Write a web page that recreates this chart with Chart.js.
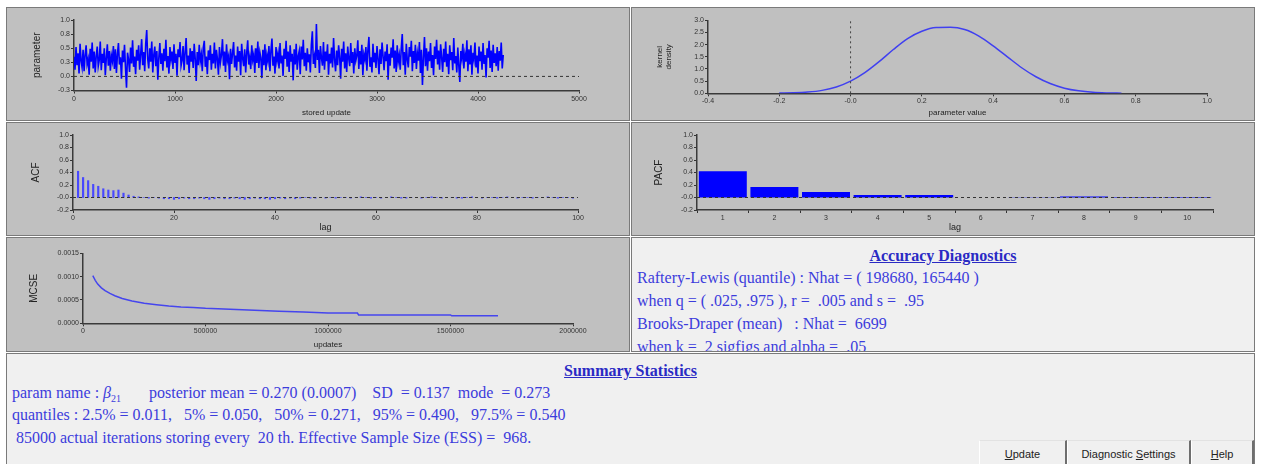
<!DOCTYPE html>
<html><head><meta charset="utf-8">
<script src="https://cdn.jsdelivr.net/npm/chart.js@4/dist/chart.umd.min.js"></script>
<style>
html,body{margin:0;padding:0;background:#fff;width:1262px;height:464px;overflow:hidden;font-family:'Liberation Serif',serif;}
.panel{position:absolute;box-sizing:border-box;border:1px solid #7a7a7a;background:#c0c0c0;overflow:hidden;}
.panel canvas{position:absolute;left:-1px;top:-1px;}
.txt{background:#f0f0f0;color:#3c3cdc;font-size:16px;}
.line{position:absolute;white-space:pre;line-height:20px;}
.head{font-weight:bold;text-decoration:underline;color:#2a2ac4;}
.btn{position:absolute;box-sizing:border-box;top:440px;height:30px;background:#f0f0f0;border-left:1px solid #ffffff;border-right:2px solid #6e6e6e;border-top:1px solid #e2e2e2;font:11px 'Liberation Sans',sans-serif;color:#222;text-align:center;line-height:26px;}
</style></head>
<body>
<div class="panel" style="left:6px;top:7px;width:624px;height:114px;"><canvas id="c1" width="624" height="114"></canvas></div>
<div class="panel" style="left:631px;top:7px;width:624px;height:114px;"><canvas id="c2" width="624" height="114"></canvas></div>
<div class="panel" style="left:6px;top:122px;width:624px;height:114px;"><canvas id="c3" width="624" height="114"></canvas></div>
<div class="panel" style="left:631px;top:122px;width:624px;height:114px;"><canvas id="c4" width="624" height="114"></canvas></div>
<div class="panel" style="left:6px;top:237px;width:624px;height:115px;"><canvas id="c5" width="624" height="115"></canvas></div>
<div class="panel txt" style="left:631px;top:237px;width:624px;height:115px;">
  <div class="line head" style="left:0;width:622px;text-align:center;top:8px">Accuracy Diagnostics</div>
  <div class="line" style="left:5px;top:30px">Raftery-Lewis (quantile) : Nhat = ( 198680, 165440 )</div>
  <div class="line" style="left:5px;top:53px">when q = ( .025, .975 ), r =  .005 and s =  .95</div>
  <div class="line" style="left:5px;top:76px">Brooks-Draper (mean)   : Nhat =  6699</div>
  <div class="line" style="left:5px;top:99px">when k =  2 sigfigs and alpha =  .05</div>
</div>
<div class="panel txt" style="left:6px;top:353px;width:1249px;height:115px;">
  <div class="line head" style="left:0;width:1247px;text-align:center;top:7px">Summary Statistics</div>
  <div class="line" style="left:5px;top:29px">param name : <i>β</i><sub style="font-size:10px">21</sub>       posterior mean = 0.270 (0.0007)    SD  = 0.137  mode  = 0.273</div>
  <div class="line" style="left:5px;top:51px">quantiles : 2.5% = 0.011,   5% = 0.050,   50% = 0.271,   95% = 0.490,   97.5% = 0.540</div>
  <div class="line" style="left:5px;top:74px"> 85000 actual iterations storing every  20 th. Effective Sample Size (ESS) =  968.</div>
</div>
<div class="btn" style="left:979px;width:88px;"><u>U</u>pdate</div>
<div class="btn" style="left:1067px;width:124px;">Diagnostic <u>S</u>ettings</div>
<div class="btn" style="left:1191px;width:63px;"><u>H</u>elp</div>

<script>
// ---------------- DATA ----------------
// trace: parameter value, one sample shown every 10 stored updates (0..4250)
const traceEvery = 10;
const traceValues = [
0.35,0.12,0.52,0.20,0.41,0.05,0.58,0.28,0.16,0.47,0.09,0.38,0.55,0.22,0.31,0.03,0.49,0.26,0.60,0.14,
0.44,0.07,0.36,0.53,0.18,0.29,0.62,0.11,0.40,0.24,0.50,0.02,0.33,0.57,0.19,0.45,0.10,0.37,0.27,0.54,
0.13,0.48,0.06,0.39,0.59,0.21,0.34,-0.04,0.46,0.25,0.56,0.15,-0.20,0.42,0.30,0.08,0.51,0.23,0.64,0.17,
0.35,0.04,0.47,0.28,0.55,0.12,0.39,0.66,0.20,0.43,0.09,0.58,0.82,0.31,0.14,0.50,0.26,0.62,0.07,0.38,
0.53,0.18,0.45,-0.06,0.33,0.59,0.22,0.41,0.10,0.49,0.27,0.65,0.16,0.36,0.05,0.52,0.30,0.44,0.13,0.57,
0.24,0.40,0.01,0.48,0.34,0.61,0.19,0.29,0.54,0.11,0.42,0.68,0.21,0.37,0.06,0.50,0.26,0.45,0.15,0.58,
0.32,-0.08,0.43,0.20,0.56,0.27,0.39,0.09,0.51,0.63,0.17,0.35,0.04,0.46,0.29,0.55,0.12,0.40,0.23,0.60,
0.14,0.47,0.31,0.03,0.52,0.25,0.38,0.66,0.19,0.44,0.08,0.57,0.28,0.36,-0.05,0.49,0.22,0.41,0.61,0.16,
0.37,0.10,0.53,0.26,0.45,0.02,0.58,0.32,0.18,0.48,0.07,0.42,0.64,0.21,0.34,0.13,0.55,0.29,0.39,0.06,
0.50,0.24,0.62,0.15,0.43,0.33,-0.03,0.47,0.20,0.57,0.11,0.38,0.27,0.54,0.09,0.46,0.67,0.19,0.35,0.05,
0.52,0.28,0.41,0.14,0.59,0.23,0.37,0.01,0.49,0.31,0.63,0.17,0.44,0.08,0.55,0.26,0.40,-0.07,0.48,0.21,
0.58,0.12,0.36,0.45,0.04,0.53,0.30,0.65,0.18,0.42,0.10,0.50,0.25,0.39,0.07,0.56,0.80,0.22,0.35,0.15,
0.93,0.29,0.47,0.06,0.54,0.33,0.19,0.61,0.12,0.44,0.27,0.57,0.03,0.40,0.23,0.51,0.16,0.68,0.30,0.09,
0.46,0.20,0.55,0.35,-0.04,0.49,0.26,0.62,0.14,0.41,0.08,0.53,0.32,0.18,0.59,0.24,0.43,0.05,0.50,0.28,
0.37,0.64,0.13,0.45,0.21,0.56,0.02,0.39,0.30,0.52,0.10,0.47,0.70,0.17,0.34,0.07,0.58,0.25,0.42,0.15,
0.54,0.31,0.04,0.48,0.22,0.60,0.36,0.11,0.44,0.27,0.57,-0.06,0.40,0.19,0.51,0.33,0.66,0.14,0.46,0.08,
0.55,0.26,0.38,0.12,0.49,0.75,0.20,0.43,0.03,0.58,0.30,0.16,0.52,0.35,0.63,0.09,0.45,0.24,0.56,0.13,
0.41,0.28,0.61,0.06,0.47,-0.15,0.33,0.70,0.18,0.50,0.10,0.44,0.27,0.59,0.15,0.38,0.02,0.53,0.31,0.65,
0.21,0.46,0.12,0.57,0.34,0.08,0.49,0.25,0.62,0.17,0.40,0.04,0.55,0.29,0.43,0.11,0.68,0.23,0.36,0.07,
0.51,0.19,-0.10,0.45,0.32,0.58,0.14,0.39,0.26,0.64,0.09,0.48,0.21,0.55,0.03,0.42,0.30,0.60,0.16,0.37,
0.05,0.53,0.27,0.44,0.12,0.59,0.22,0.38,-0.02,0.50,0.33,0.63,0.15,0.46,0.08,0.56,0.24,0.41,0.18,0.52,
0.10,0.45,0.28,0.60,0.14,0.38
];
const traceXTicks = [0, 5000, 1000];      // min, max, step (stored update)
const traceYTicks = [-0.25, 1.0, 0.25];   // min, max, step (parameter)

// kernel density
const kernelX = [-0.20,-0.16,-0.12,-0.08,-0.04,0.00,0.04,0.08,0.12,0.16,0.20,0.24,0.28,0.32,0.36,0.40,0.44,0.48,0.52,0.56,0.60,0.64,0.68,0.72,0.76];
const kernelY = [0.01,0.02,0.05,0.12,0.26,0.50,0.85,1.30,1.80,2.25,2.55,2.70,2.71,2.62,2.35,1.95,1.50,1.05,0.68,0.40,0.21,0.10,0.04,0.015,0.005];
const kernelXTicks = [-0.4, 1.0, 0.2];
const kernelYTicks = [0, 3.0, 0.5];

// ACF, lags 1..100
const acfValues = [
0.42,0.32,0.27,0.21,0.18,0.14,0.12,0.11,0.12,0.07,
0.04,0.02,0.01,0.00,-0.01,0.00,-0.01,-0.02,-0.02,-0.03,
-0.02,-0.01,-0.02,-0.02,-0.01,-0.02,-0.03,-0.02,-0.01,-0.02,
-0.02,-0.01,-0.02,-0.03,-0.02,-0.01,-0.02,-0.02,-0.03,-0.02,
-0.01,-0.02,-0.01,-0.02,-0.01,0.00,-0.01,-0.01,0.00,-0.01,
0.00,-0.01,0.00,0.00,-0.01,0.00,0.01,0.00,-0.01,0.00,
-0.01,0.00,0.01,0.00,-0.01,-0.01,0.00,0.00,-0.01,0.00,
0.01,0.00,-0.01,0.00,0.00,-0.01,-0.01,0.00,0.01,0.00,
-0.01,0.00,0.00,-0.01,0.00,0.01,0.00,-0.01,0.00,0.00,
-0.01,0.00,0.00,0.01,0.00,-0.01,0.00,0.00,-0.01,0.00
];
const acfXTicks = [0, 100, 20];
const corrYTicks = [-0.2, 1.0, 0.2];

// PACF, lags 1..10
const pacfLags = ['1','2','3','4','5','6','7','8','9','10'];
const pacfValues = [0.42,0.17,0.09,0.04,0.04,0.00,-0.003,0.016,0.007,0.007];

// MCSE vs updates
const mcseUpdates = [40000,50000,60000,75000,90000,110000,130000,160000,200000,250000,300000,350000,400000,450000,500000,600000,700000,800000,900000,1000000,1120000,1125000,1300000,1500000,1505000,1694000];
const mcseValues  = [0.00102,0.00092,0.00084,0.00076,0.00070,0.00064,0.00059,0.00053,0.00048,0.00043,0.00040,0.00037,0.00035,0.00034,0.00032,0.00030,0.00028,0.00026,0.00024,0.00022,0.00022,0.00018,0.00018,0.00018,0.00016,0.00016];
const mcseXTicks = [0, 2000000, 500000];
const mcseYTicks = [0, 0.0015, 0.0005];

// ---------------- HELPERS ----------------
Chart.defaults.font.family = "'Liberation Sans', sans-serif";
Chart.defaults.color = '#333';
const X_TITLE = 8, LHR = 1.1;
const TICK_FONT = {size: 7};

function axis(ticks, fmt, title, tsize) {
  return {
    type: 'linear', min: ticks[0], max: ticks[1], offset: false,
    ticks: {stepSize: ticks[2], font: TICK_FONT, color: '#333', padding: 1, callback: fmt, maxRotation: 0, autoSkip: false},
    grid: {display: true, drawOnChartArea: false, drawTicks: true, tickLength: 3, color: '#333', offset: false},
    border: {display: true, color: '#3a3a3a', width: 1.5},
    title: {display: true, text: title, font: {size: tsize || X_TITLE, lineHeight: LHR}, color: '#222', padding: 0}
  };
}

function build(id, w, h, area, type, datasets, xs, ys, extraScales, labels) {
  const ylh = ys.title.font.size * LHR, xlh = xs.title.font.size * LHR;
  const pl = area.yt - ylh / 2;
  const pb = h - area.xt - xlh / 2;
  xs.afterFit = s => { s.height = h - pb - area.b; s.paddingLeft = 0; s.paddingRight = 0; };
  ys.afterFit = s => { s.width = area.l - pl; s.paddingTop = 0; s.paddingBottom = 0; };
  const scales = Object.assign({x: xs, y: ys}, extraScales || {});
  const data = {datasets};
  if (labels) data.labels = labels;
  return new Chart(document.getElementById(id), {
    type, data,
    options: {
      responsive: false, animation: false, maintainAspectRatio: false,
      layout: {padding: {left: pl, top: area.t, right: w - area.r, bottom: pb}},
      plugins: {legend: {display: false}, tooltip: {enabled: false}},
      elements: {point: {radius: 0}},
      scales
    }
  });
}
const f1 = v => Number(v).toFixed(1);
const f0 = v => String(Math.round(v));
const f4 = v => Number(v).toFixed(4);

// ---------------- 1. TRACE ----------------
build('c1', 624, 114, {l: 68, r: 573, t: 13, b: 83.5, yt: 31, xt: 106}, 'line', [
  {data: [{x: traceXTicks[0], y: 0}, {x: traceXTicks[1], y: 0}], borderColor: '#333', borderWidth: 1, borderDash: [3, 3]},
  {data: traceValues.map((v, i) => ({x: i * traceEvery, y: v})), borderColor: '#0000ff', borderWidth: 1.6}
], axis(traceXTicks, f0, 'stored update'), axis(traceYTicks, f1, 'parameter', 10));

// ---------------- 2. KERNEL ----------------
build('c2', 624, 114, {l: 77, r: 576, t: 13.3, b: 86.3, yt: 28.5, xt: 106}, 'line', [
  {data: [{x: 0, y: 0}, {x: 0, y: 3}], borderColor: '#444', borderWidth: 1, borderDash: [2, 3]},
  {data: kernelX.map((x, i) => ({x, y: kernelY[i]})), borderColor: '#4040f0', borderWidth: 1.5, tension: 0.4, cubicInterpolationMode: 'monotone'}
], axis(kernelXTicks, f1, 'parameter value'), axis(kernelYTicks, f1, ['kernel', 'density'], 8));

// ---------------- 3. ACF ----------------
build('c3', 624, 114, {l: 67, r: 572, t: 13, b: 88, yt: 30, xt: 106}, 'bar', [
  {type: 'line', data: [{x: acfXTicks[0], y: 0}, {x: acfXTicks[1], y: 0}], borderColor: '#333', borderWidth: 1, borderDash: [3, 3]},
  {data: acfValues.map((v, i) => ({x: i + 1, y: v})), backgroundColor: '#4848ff', barThickness: 1.5}
], axis(acfXTicks, f0, 'lag', 9), axis(corrYTicks, f1, 'ACF', 10));

// ---------------- 4. PACF ----------------
const pacfX = axis([0, 0, 1], undefined, 'lag', 9);
pacfX.type = 'category'; delete pacfX.min; delete pacfX.max; pacfX.offset = true; pacfX.grid.offset = true;
pacfX.ticks = {font: TICK_FONT, color: '#333', padding: 1, maxRotation: 0, autoSkip: false};
build('c4', 624, 114, {l: 66, r: 582, t: 13, b: 88, yt: 28, xt: 106}, 'bar', [
  {type: 'line', xAxisID: 'x2', data: [{x: 0, y: 0}, {x: 1, y: 0}], borderColor: '#333', borderWidth: 1, borderDash: [3, 3]},
  {data: pacfValues, backgroundColor: '#0000ff', grouped: false, barPercentage: 0.93, categoryPercentage: 1.0}
], pacfX, axis(corrYTicks, f1, 'PACF', 10), {x2: {type: 'linear', display: false, min: 0, max: 1, offset: false}}, pacfLags);

// ---------------- 5. MCSE ----------------
build('c5', 624, 115, {l: 77, r: 567, t: 16.3, b: 86.3, yt: 28, xt: 108}, 'line', [
  {data: mcseUpdates.map((x, i) => ({x, y: mcseValues[i]})), borderColor: '#4545ee', borderWidth: 1.5}
], axis(mcseXTicks, f0, 'updates'), axis(mcseYTicks, f4, 'MCSE', 10));
</script>
</body></html>
